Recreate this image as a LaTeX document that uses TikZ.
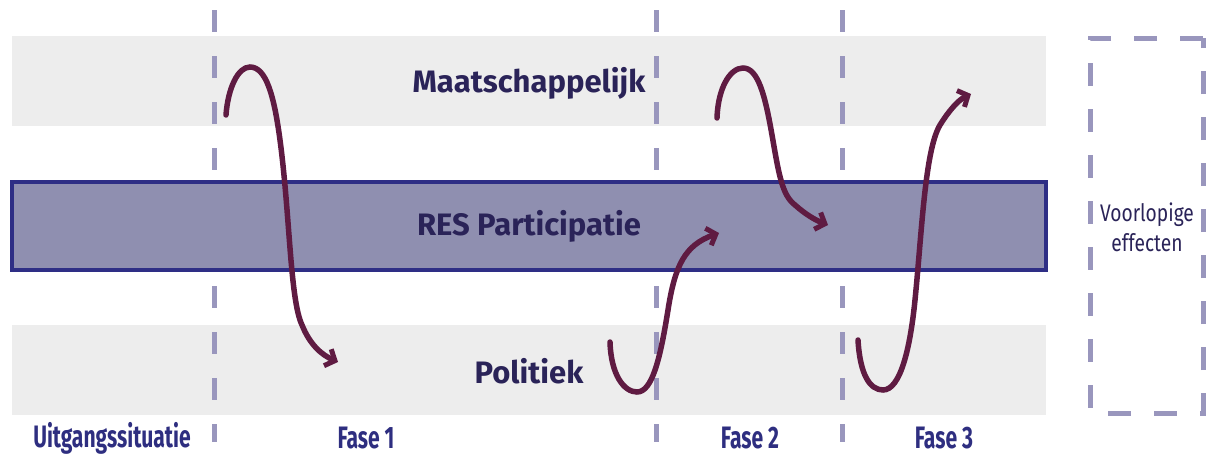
\documentclass[tikz,border=0pt]{standalone}
\usepackage{fontspec}
\setmainfont{Fira Sans}
\usetikzlibrary{arrows.meta}
\definecolor{bandgray}{HTML}{EDEDED}
\definecolor{resfill}{HTML}{8F8FB0}
\definecolor{resborder}{HTML}{2E2E85}
\definecolor{dashcol}{HTML}{9996BD}
\definecolor{arrowcol}{HTML}{5F1B42}
\definecolor{maintext}{HTML}{2A2358}
\definecolor{phasetext}{HTML}{2E2E80}
\tikzset{
  bandbox/.style={fill=bandgray, draw=none},
  resbox/.style={fill=resfill, draw=resborder, line width=4pt},
  phaseline/.style={draw=dashcol, line width=5pt, dash pattern=on 22pt off 24pt},
  effectbox/.style={draw=dashcol, line width=5pt, dash pattern=on 23pt off 23pt},
  flow/.style={draw=arrowcol, line width=5.5pt, line cap=round, -{Straight Barb[length=8pt,width=18pt,line width=5pt]}},
  mainlabel/.style={text=maintext, font=\fontsize{31}{34}\selectfont\bfseries, inner sep=0pt},
  phaselabel/.style={text=phasetext, font=\fontsize{31}{32}\selectfont\bfseries, inner sep=0pt, xscale=0.68},
  effectlabel/.style={text=maintext, font=\fontsize{24}{30}\selectfont, inner sep=0pt, align=center, xscale=0.8}
}
\begin{document}
\begin{tikzpicture}[x=1pt,y=-1pt]
\useasboundingbox (0,0) rectangle (1209,455);
% bands
\path[bandbox] (12,36) rectangle (1046,126);
\path[bandbox] (12,325) rectangle (1046,415);
% phase lines
\coordinate (p1t) at (214,10); \coordinate (p1b) at (214,442);
\coordinate (p2t) at (656,10); \coordinate (p2b) at (656,442);
\coordinate (p3t) at (842,10); \coordinate (p3b) at (842,442);
\draw[phaseline] (p1t) -- (p1b);
\draw[phaseline] (p2t) -- (p2b);
\draw[phaseline] (p3t) -- (p3b);
% RES band
\draw[resbox] (12,182) rectangle (1046,270);
% effect box
\draw[effectbox] (1203,38) -- (1090,38) -- (1090,413) -- (1203,413) -- cycle;
% labels
\node[mainlabel] (maat) at (529,83) {Maatschappelijk};
\node[mainlabel] (res) at (529,226) {RES Participatie};
\node[mainlabel] (pol) at (529,371) {Politiek};
\node[effectlabel] (eff) at (1147,227) {Voorlopige\\effecten};
\node[phaselabel] (uit) at (112,438) {Uitgangssituatie};
\node[phaselabel] (f1) at (366,438) {Fase 1};
\node[phaselabel] (f2) at (750,438) {Fase 2};
\node[phaselabel] (f3) at (944,438) {Fase 3};
% arrows
\coordinate (a1s) at (226,115); \coordinate (a1e) at (338,362);
\coordinate (a2s) at (610,342); \coordinate (a2e) at (719,233);
\coordinate (a3s) at (717,118); \coordinate (a3e) at (828,225);
\coordinate (a4s) at (858,340); \coordinate (a4e) at (971,94);
\draw[flow] (a1s) .. controls (228,88) and (238,67) .. (250,67)
  .. controls (266,67) and (274,95) .. (280,140)
  .. controls (290,215) and (290,300) .. (302,325)
  .. controls (310,345) and (322,355) .. (a1e);
\draw[flow] (a2s) .. controls (611,375) and (624,392) .. (637,392)
  .. controls (652,392) and (660,360) .. (668,310)
  .. controls (675,265) and (685,245) .. (a2e);
\draw[flow] (a3s) .. controls (718,88) and (730,68) .. (743,68)
  .. controls (758,68) and (765,95) .. (772,135)
  .. controls (779,175) and (782,195) .. (795,205)
  .. controls (805,214) and (815,220) .. (a3e);
\draw[flow] (a4s) .. controls (860,375) and (870,390) .. (883,390)
  .. controls (900,390) and (910,350) .. (915,300)
  .. controls (922,230) and (925,150) .. (940,125)
  .. controls (948,112) and (958,100) .. (a4e);
\end{tikzpicture}
\end{document}
